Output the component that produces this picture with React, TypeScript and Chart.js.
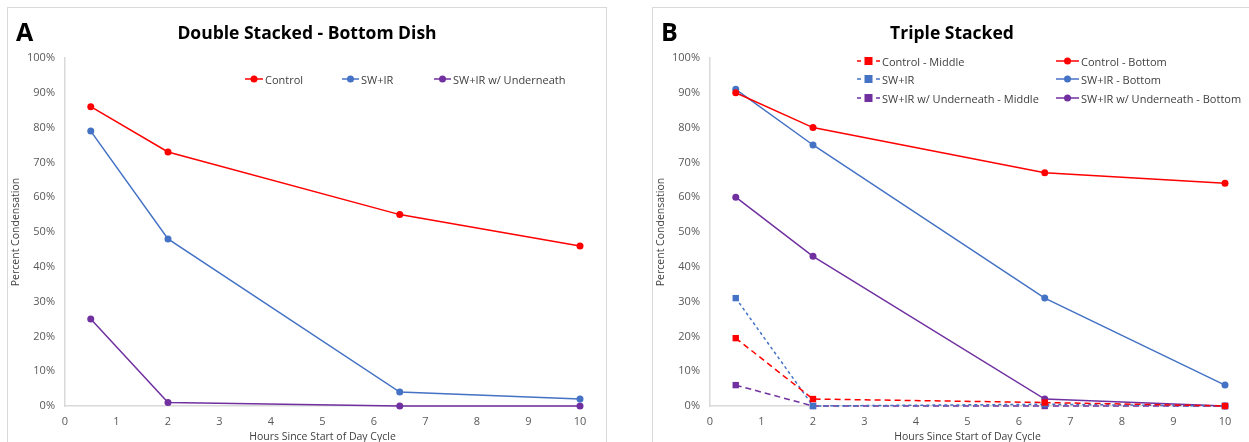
import React, { useEffect, useRef } from "react";
import { Chart, registerables } from "chart.js";
Chart.register(...registerables);

const hours = [0.5, 2, 6.5, 10];
const xTicks = [0, 1, 2, 3, 4, 5, 6, 7, 8, 9, 10];
const yTicks = [0, 10, 20, 30, 40, 50, 60, 70, 80, 90, 100];

// Panel A – Double Stacked, Bottom Dish
const aControl = [86, 73, 55, 46];
const aSwIr = [79, 48, 4, 2];
const aUnder = [25, 1, 0, 0];

// Panel B – Triple Stacked
const bControlMid = [19.5, 2, 1, 0];
const bSwIrMid = [31, 0, 0.5, 0];
const bUnderMid = [6, 0, 0, 0];
const bControlBot = [90, 80, 67, 64];
const bSwIrBot = [91, 75, 31, 6];
const bUnderBot = [60, 43, 2, 0];

const RED = "#FF0000";
const BLUE = "#4472C4";
const PURPLE = "#7030A0";
const FONT = "'Open Sans', 'Liberation Sans', sans-serif";

const toPts = (vals: number[]) => vals.map((v, i) => ({ x: hours[i], y: v }));

function solid(label: string, vals: number[], color: string) {
  return {
    label,
    data: toPts(vals),
    borderColor: color,
    backgroundColor: color,
    borderWidth: 1.5,
    pointRadius: 3.5,
    pointStyle: "circle",
    pointBorderWidth: 0,
    tension: 0,
    clip: false,
  };
}
function dashed(label: string, vals: number[], color: string, dash: number[]) {
  return {
    label,
    data: toPts(vals),
    borderColor: color,
    backgroundColor: color,
    borderWidth: 1.5,
    borderDash: dash,
    pointRadius: 4.5,
    pointStyle: "rect",
    pointBorderWidth: 0,
    tension: 0,
    clip: false,
  };
}

function makeOptions() {
  return {
    animation: false,
    responsive: false,
    maintainAspectRatio: false,
    layout: { padding: { top: 50, right: 26, left: 0, bottom: 0 } },
    plugins: { legend: { display: false }, title: { display: false }, tooltip: { enabled: false } },
    scales: {
      x: {
        type: "linear",
        min: 0,
        max: 10,
        afterBuildTicks: (axis: any) => {
          axis.ticks = xTicks.map((v) => ({ value: v }));
        },
        afterFit: (axis: any) => {
          axis.height = 37;
        },
        grid: { display: false, drawTicks: false },
        border: { display: true, color: "#D9D9D9", width: 1.5 },
        ticks: { color: "#595959", font: { family: FONT, size: 11 }, padding: 9, maxRotation: 0 },
        title: {
          display: true,
          text: "Hours Since Start of Day Cycle",
          color: "#404040",
          font: { family: FONT, size: 10.5 },
          padding: { top: 0, bottom: 0 },
        },
      },
      y: {
        type: "linear",
        min: 0,
        max: 100,
        afterBuildTicks: (axis: any) => {
          axis.ticks = yTicks.map((v) => ({ value: v }));
        },
        afterFit: (axis: any) => {
          axis.width = 57;
        },
        grid: { display: false, drawTicks: false },
        border: { display: true, color: "#D9D9D9", width: 1.5 },
        ticks: {
          color: "#595959",
          font: { family: FONT, size: 11 },
          padding: 10,
          callback: (v: any) => v + "%",
        },
        title: {
          display: true,
          text: "Percent Condensation",
          color: "#404040",
          font: { family: FONT, size: 10.5 },
          padding: { top: 2, bottom: 0 },
        },
      },
    },
  };
}

function LineChart({ datasets, width, height }: { datasets: any[]; width: number; height: number }) {
  const ref = useRef<HTMLCanvasElement>(null);
  useEffect(() => {
    const chart = new Chart(ref.current!, {
      type: "line",
      data: { datasets },
      options: makeOptions() as any,
    });
    return () => chart.destroy();
  }, []);
  return <canvas ref={ref} width={width} height={height} style={{ position: "absolute", left: 0, top: 0 }} />;
}

function Sym({ color, dashedSym, w }: { color: string; dashedSym?: boolean; w: number }) {
  const c = w / 2;
  return (
    <svg width={w} height={10} style={{ display: "block" }}>
      {dashedSym ? (
        <>
          <line x1={0} y1={5} x2={4} y2={5} stroke={color} strokeWidth={1.5} />
          <rect x={c - 4} y={1} width={8} height={8} fill={color} />
          <line x1={w - 4} y1={5} x2={w} y2={5} stroke={color} strokeWidth={1.5} />
        </>
      ) : (
        <>
          <line x1={0} y1={5} x2={w} y2={5} stroke={color} strokeWidth={1.5} />
          <circle cx={c} cy={5} r={3.5} fill={color} />
        </>
      )}
    </svg>
  );
}

function LegendItem({ x, y, color, label, dashedSym, w }: any) {
  return (
    <div
      style={{
        position: "absolute",
        left: x,
        top: y - 8,
        height: 16,
        display: "flex",
        alignItems: "center",
        whiteSpace: "nowrap",
        fontFamily: FONT,
        fontSize: 11,
        color: "#404040",
      }}
    >
      <Sym color={color} dashedSym={dashedSym} w={w} />
      <span style={{ marginLeft: 2 }}>{label}</span>
    </div>
  );
}

function Panel({ left, letter, title, children }: any) {
  return (
    <div
      style={{
        position: "absolute",
        left,
        top: 7,
        width: 598,
        height: 445,
        border: "1px solid #D9D9D9",
        background: "#fff",
        overflow: "hidden",
      }}
    >
      {children}
      <div
        style={{
          position: "absolute",
          left: 8,
          top: 8,
          fontFamily: FONT,
          fontWeight: 700,
          fontSize: 25,
          lineHeight: "30px",
          color: "#000",
        }}
      >
        {letter}
      </div>
      <div
        style={{
          position: "absolute",
          left: 0,
          width: 598,
          top: 12,
          textAlign: "center",
          fontFamily: FONT,
          fontWeight: 700,
          fontSize: 17.5,
          lineHeight: "24px",
          color: "#000",
        }}
      >
        {title}
      </div>
    </div>
  );
}

export default function App() {
  const dsA = [
    solid("Control", aControl, RED),
    solid("SW+IR", aSwIr, BLUE),
    solid("SW+IR w/ Underneath", aUnder, PURPLE),
  ];
  const dsB = [
    dashed("Control - Middle", bControlMid, RED, [6, 4]),
    dashed("SW+IR", bSwIrMid, BLUE, [3, 3]),
    dashed("SW+IR w/ Underneath - Middle", bUnderMid, PURPLE, [6, 4]),
    solid("Control - Bottom", bControlBot, RED),
    solid("SW+IR - Bottom", bSwIrBot, BLUE),
    solid("SW+IR w/ Underneath - Bottom", bUnderBot, PURPLE),
  ];
  return (
    <div style={{ position: "fixed", left: 0, top: 0, width: 1249, height: 442, background: "#fff", overflow: "hidden" }}>
      <Panel left={7} letter="A" title="Double Stacked  - Bottom Dish">
        <LineChart datasets={dsA} width={598} height={435} />
        <LegendItem x={237} y={71} color={RED} label="Control" w={18} />
        <LegendItem x={334} y={71} color={BLUE} label="SW+IR" w={17} />
        <LegendItem x={426} y={71} color={PURPLE} label="SW+IR w/ Underneath" w={17} />
      </Panel>
      <Panel left={652} letter="B" title="Triple Stacked">
        <LineChart datasets={dsB} width={598} height={435} />
        <LegendItem x={204} y={53} color={RED} label="Control - Middle" dashedSym w={23} />
        <LegendItem x={204} y={71} color={BLUE} label="SW+IR" dashedSym w={23} />
        <LegendItem x={204} y={90} color={PURPLE} label="SW+IR w/ Underneath - Middle" dashedSym w={23} />
        <LegendItem x={403} y={53} color={RED} label="Control - Bottom" w={23} />
        <LegendItem x={403} y={71} color={BLUE} label="SW+IR - Bottom" w={23} />
        <LegendItem x={403} y={90} color={PURPLE} label="SW+IR w/ Underneath - Bottom" w={23} />
      </Panel>
    </div>
  );
}
